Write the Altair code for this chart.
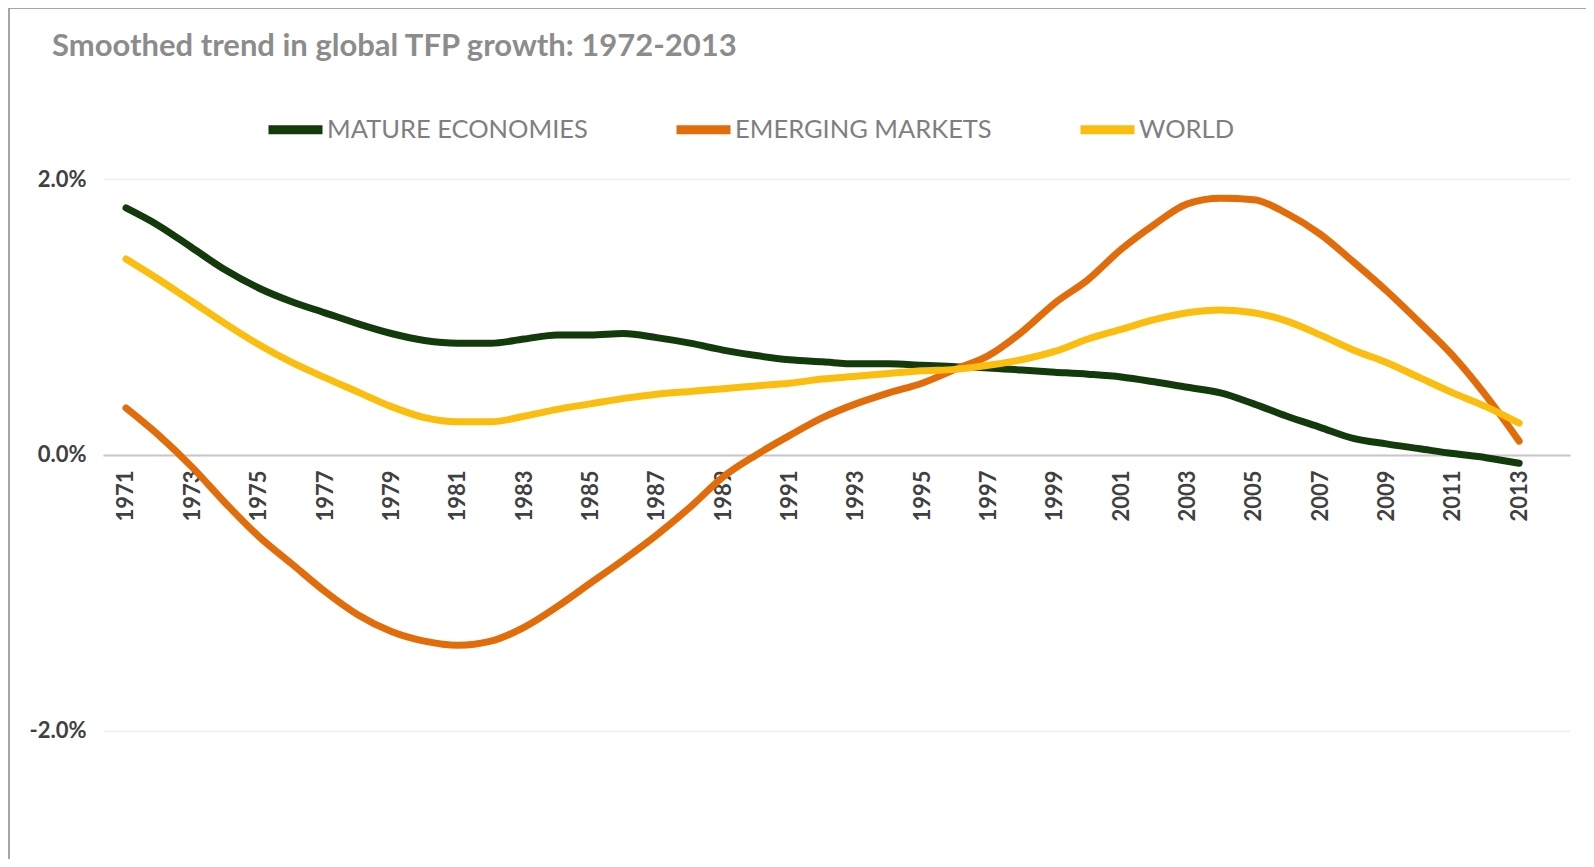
import altair as alt
import pandas as pd

years = list(range(1971, 2014))

mature = [1.79, 1.66, 1.50, 1.34, 1.21, 1.11, 1.03, 0.95, 0.88, 0.83,
          0.81, 0.81, 0.84, 0.87, 0.87, 0.88, 0.85, 0.81, 0.76, 0.72,
          0.69, 0.675, 0.66, 0.66, 0.65, 0.64, 0.63, 0.615, 0.60, 0.585,
          0.565, 0.53, 0.49, 0.45, 0.37, 0.28, 0.20, 0.12, 0.08, 0.045,
          0.01, -0.02, -0.06]

emerging = [0.34, 0.14, -0.09, -0.35, -0.59, -0.79, -0.99, -1.16, -1.28, -1.35,
            -1.38, -1.35, -1.25, -1.10, -0.93, -0.76, -0.58, -0.38, -0.16, 0.0,
            0.14, 0.27, 0.37, 0.45, 0.52, 0.62, 0.72, 0.89, 1.10, 1.27,
            1.49, 1.67, 1.82, 1.86, 1.85, 1.75, 1.60, 1.40, 1.19, 0.96,
            0.72, 0.43, 0.10]

world = [1.42, 1.27, 1.11, 0.95, 0.80, 0.67, 0.56, 0.455, 0.35, 0.27,
         0.24, 0.24, 0.28, 0.33, 0.37, 0.41, 0.44, 0.46, 0.48, 0.50,
         0.52, 0.55, 0.57, 0.59, 0.61, 0.62, 0.65, 0.69, 0.75, 0.84,
         0.91, 0.98, 1.03, 1.05, 1.03, 0.97, 0.87, 0.76, 0.67, 0.56,
         0.45, 0.35, 0.23]

series_names = ["MATURE ECONOMIES", "EMERGING MARKETS", "WORLD"]
series_colors = ["#123A0B", "#E36C0A", "#FBBD0E"]
x_ticks = list(range(1971, 2014, 2))
y_ticks = [-2, 0, 2]

rows = []
for name, vals in zip(series_names, [mature, emerging, world]):
    for yr, v in zip(years, vals):
        rows.append({"year": yr, "value": v, "series": name})
df = pd.DataFrame(rows)

FONT = "Lato"
W, H = 1467, 676

base = alt.Chart(df)

lines = base.mark_line(strokeWidth=7, interpolate="monotone", strokeCap="round").encode(
    x=alt.X("year:Q",
            scale=alt.Scale(domain=[1970.307, 2014.533], nice=False, zero=False),
            axis=alt.Axis(values=x_ticks, format="d", labelAngle=-90,
                          labelFontSize=22, labelFontWeight="bold", labelColor="#404040",
                          labelFont=FONT, labelPadding=15, ticks=False,
                          domain=True, domainColor="#C8C8C8", domainWidth=2,
                          grid=False, title=None, offset=-400)),
    y=alt.Y("value:Q",
            scale=alt.Scale(domain=[-2.9, 2], nice=False, zero=False),
            axis=alt.Axis(values=y_ticks,
                          labelExpr="(datum.value < 0 ? '-' : '') + format(abs(datum.value) / 100, '.1%')",
                          labelFontSize=22, labelFontWeight="bold", labelColor="#404040",
                          labelFont=FONT, labelPadding=17, ticks=False, domain=False,
                          grid=True, gridColor="#EFEFEF", gridWidth=1.5, title=None)),
    color=alt.Color("series:N",
                    scale=alt.Scale(domain=series_names, range=series_colors),
                    sort=series_names,
                    legend=alt.Legend(orient="none", direction="horizontal",
                                      legendX=161, legendY=-81, title=None,
                                      symbolType="stroke", symbolSize=2916,
                                      symbolStrokeWidth=9, labelFontSize=25.5,
                                      labelColor="#7F7F7F", labelFont=FONT,
                                      labelOffset=0, columnPadding=70,
                                      labelLimit=0)),
    order=alt.Order("year:Q"),
)

# outer frame of the original screenshot (decoration only)
frame = alt.Chart(pd.DataFrame({"k": [0]})).mark_rect(
    fill="transparent", stroke="#A6A6A6", strokeWidth=2
).encode(
    x=alt.value(-94), x2=alt.value(W + 40),
    y=alt.value(-171), y2=alt.value(H + 40),
)

chart = alt.layer(frame, lines).properties(
    width=W,
    height=H,
    background="white",
    title=alt.TitleParams(
        "Smoothed trend in global TFP growth: 1972-2013",
        anchor="start", frame="group", font=FONT, fontSize=31, fontWeight="bold",
        color="#8C8C8C", dx=-51, offset=0, dy=80, baseline="alphabetic"),
    autosize=alt.AutoSizeParams(type="none"),
    padding={"left": 95, "top": 171, "right": 16, "bottom": 4},
).configure_view(stroke="transparent", strokeWidth=0)

chart.save("out.html", embed_options={"renderer": "svg", "actions": False})
